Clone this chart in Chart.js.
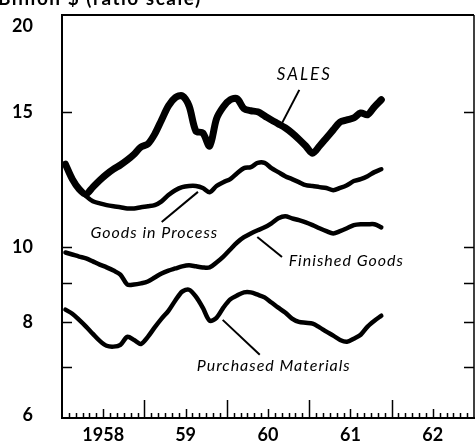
<!DOCTYPE html>
<html>
<head>
<meta charset="utf-8">
<script src="https://cdn.jsdelivr.net/npm/chart.js@4.4.1/dist/chart.umd.min.js"></script>
<style>
  html, body { margin: 0; padding: 0; background: #fff; }
  canvas { display: block; }
</style>
</head>
<body>
<canvas id="c" width="475" height="442"></canvas>
<script>
// ---- Data (billion $, monthly, Jan 1958 .. Nov 1961) ----
const startYear = 1958;
const sales = [12.83,12.27,11.91,11.73,11.98,12.23,12.45,12.64,12.80,12.99,13.22,13.51,13.63,14.04,14.65,15.28,15.66,15.75,15.28,14.17,14.09,13.55,14.70,15.24,15.56,15.61,15.15,15.06,15.01,14.83,14.65,14.48,14.31,14.09,13.83,13.55,13.26,13.55,13.88,14.22,14.56,14.65,14.74,14.96,14.88,15.24,15.56];
const goodsInProcess = [12.83,12.27,11.91,11.66,11.48,11.41,11.35,11.31,11.28,11.24,11.24,11.28,11.31,11.35,11.48,11.70,11.87,11.98,12.02,12.02,11.95,11.80,12.02,12.16,12.27,12.49,12.68,12.72,12.88,12.88,12.68,12.53,12.38,12.27,12.16,12.05,12.02,11.98,11.95,11.87,11.95,12.05,12.20,12.27,12.38,12.53,12.64];
const finishedGoods = [9.85,9.79,9.73,9.68,9.59,9.50,9.42,9.33,9.22,8.95,8.95,8.98,9.03,9.14,9.25,9.33,9.39,9.45,9.48,9.45,9.42,9.42,9.56,9.73,9.94,10.15,10.31,10.43,10.53,10.62,10.75,10.91,10.98,10.91,10.85,10.78,10.69,10.59,10.50,10.43,10.50,10.59,10.69,10.72,10.72,10.72,10.62];
const purchasedMaterials = [8.30,8.20,8.05,7.89,7.72,7.56,7.45,7.43,7.47,7.65,7.58,7.49,7.65,7.87,8.08,8.27,8.53,8.76,8.81,8.63,8.35,8.03,8.10,8.35,8.56,8.66,8.74,8.74,8.68,8.61,8.48,8.35,8.23,8.08,8.00,7.98,7.96,7.87,7.77,7.68,7.58,7.54,7.61,7.70,7.89,8.03,8.15];

const yearTicks = [1958, 1959, 1960, 1961, 1962];
const yearLabels = ['1958', '59', '60', '61', '62'];
const yTicks = [6, 7, 8, 9, 10, 15, 20];
const yLabels = [6, 8, 10, 15, 20];
const titleText = 'Billion $ (ratio scale)';

// annotations: [text, x(year), y(value)], leaders: [x1,y1,x2,y2]
const annotations = [
  ['SALES', 1960.94, 16.76, [1960.88, 16.03, 1960.67, 14.51]],
  ['Goods in Process', 1959.12, 10.44, [1959.21, 10.79, 1959.65, 11.81]],
  ['Finished Goods', 1961.45, 9.60, [1960.37, 10.32, 1960.67, 9.72]],
  ['Purchased Materials', 1960.57, 7.01, [1959.95, 8.05, 1960.40, 7.25]]
];

function toPoints(arr) {
  return arr.map((v, i) => ({ x: startYear + (i + 0.5) / 12, y: v }));
}

const BOLD = 'bold 18px Lato, "Open Sans", sans-serif';
const ITAL = 'italic 16px Lato, "Open Sans", sans-serif';

const framePlugin = {
  id: 'frame',
  beforeDatasetsDraw(chart) {
    const { ctx, chartArea: a, scales: { x, y } } = chart;
    ctx.save();
    ctx.strokeStyle = '#000';
    ctx.lineCap = 'butt';
    ctx.lineWidth = 2;
    ctx.beginPath();
    ctx.moveTo(a.left, a.bottom + 1);
    ctx.lineTo(a.left, a.top - 1);
    ctx.lineTo(a.right, a.top - 1);
    ctx.stroke();
    ctx.beginPath();
    ctx.moveTo(a.left - 1, a.bottom);
    ctx.lineTo(chart.width, a.bottom);
    ctx.stroke();
    ctx.lineWidth = 1.5;
    ctx.beginPath();
    ctx.moveTo(a.right, a.top - 1);
    ctx.lineTo(a.right, a.bottom);
    ctx.stroke();
    ctx.lineWidth = 1.5;
    yTicks.forEach(t => {
      if (t === 6 || t === 20) return;
      const py = Math.round(y.getPixelForValue(t)) + 0.5;
      ctx.beginPath();
      ctx.moveTo(a.left, py); ctx.lineTo(a.left + 10, py);
      ctx.moveTo(a.right - 10, py); ctx.lineTo(a.right, py);
      ctx.stroke();
    });
    for (let yr = yearTicks[0]; yr <= yearTicks[yearTicks.length - 1]; yr++) {
      for (let m = 0; m < 12; m++) {
        const v = yr + m / 12;
        const px = Math.round(x.getPixelForValue(v)) + 0.5;
        let h = 5;
        if (m === 6) h = 9;
        if (m === 0) h = 18;
        if (m === 0 && yr === yearTicks[0]) continue;
        ctx.beginPath();
        ctx.moveTo(px, a.bottom);
        ctx.lineTo(px, a.bottom - h);
        ctx.stroke();
      }
    }
    ctx.fillStyle = '#000';
    ctx.font = BOLD;
    ctx.textAlign = 'right';
    ctx.textBaseline = 'middle';
    yLabels.forEach(t => {
      let py = y.getPixelForValue(t);
      py = Math.max(py, a.top + 10);
      py = Math.min(py, a.bottom - 3);
      ctx.fillText(String(t), 33, py);
    });
    ctx.textAlign = 'center';
    yearTicks.forEach((yr, i) => {
      ctx.fillText(yearLabels[i], x.getPixelForValue(yr + 0.5), a.bottom + 17);
    });
    ctx.textAlign = 'left';
    ctx.textBaseline = 'alphabetic';
    ctx.font = 'bold 19px Lato, "Open Sans", sans-serif';
    ctx.letterSpacing = '1.5px';
    ctx.fillText(titleText, -2, 5);
    ctx.restore();
  },
  afterDatasetsDraw(chart) {
    const { ctx, scales: { x, y } } = chart;
    ctx.save();
    ctx.fillStyle = '#000';
    ctx.strokeStyle = '#000';
    ctx.lineWidth = 2;
    ctx.textAlign = 'center';
    ctx.textBaseline = 'middle';
    annotations.forEach(([txt, ax, ay, l]) => {
      if (txt === 'SALES') {
        ctx.font = 'italic 17px Lato, "Open Sans", sans-serif';
        ctx.letterSpacing = '2px';
      } else {
        ctx.font = ITAL;
        ctx.letterSpacing = '1px';
      }
      ctx.fillText(txt, x.getPixelForValue(ax), y.getPixelForValue(ay));
      ctx.beginPath();
      ctx.moveTo(x.getPixelForValue(l[0]), y.getPixelForValue(l[1]));
      ctx.lineTo(x.getPixelForValue(l[2]), y.getPixelForValue(l[3]));
      ctx.stroke();
    });
    ctx.restore();
  }
};

const mk = (label, arr, w) => ({
  label, data: toPoints(arr), borderColor: '#000', backgroundColor: '#000',
  borderWidth: w, pointRadius: 0, fill: false, tension: 0.3,
  borderCapStyle: 'round', borderJoinStyle: 'round'
});

new Chart(document.getElementById('c'), {
  type: 'line',
  data: {
    datasets: [
      mk('Sales', sales, 7),
      mk('Goods in Process', goodsInProcess, 4.5),
      mk('Finished Goods', finishedGoods, 4.5),
      mk('Purchased Materials', purchasedMaterials, 4.5)
    ]
  },
  options: {
    responsive: false,
    animation: false,
    layout: { padding: { left: 62, right: 1, top: 16, bottom: 24 } },
    plugins: { legend: { display: false }, tooltip: { enabled: false } },
    scales: {
      x: { type: 'linear', min: 1958, max: 1963, display: false },
      y: { type: 'logarithmic', min: 6, max: 20, display: false }
    }
  },
  plugins: [framePlugin]
});
</script>
</body>
</html>
